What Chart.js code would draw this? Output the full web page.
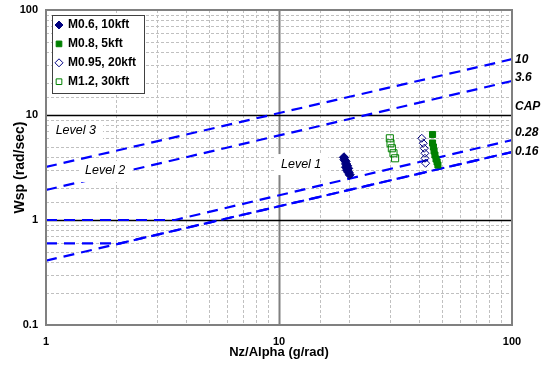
<!DOCTYPE html>
<html lang="en">
<head>
  <meta charset="UTF-8">
  <title>Wsp vs Nz/Alpha</title>
  <!-- Chart.js -->
  <script src="https://cdn.jsdelivr.net/npm/chart.js"></script>
  <style>
    * {
      box-sizing: border-box;
      margin: 0;
      padding: 0;
    }
    body {
      background-color: #fff;
      width: 541px;
      height: 365px;
      overflow: hidden;
    }
    #chart-container {
      width: 541px;
      height: 365px;
    }
  </style>
</head>
<body>
  <div id="chart-container">
    <canvas id="wspChart" width="541" height="365"></canvas>
  </div>

  <script>
    // Flight test points
    const m06X = [19.0, 19.1, 19.3, 19.4, 19.6, 19.4, 19.8, 19.6, 19.9, 20.1];
    const m06Y = [3.95, 3.75, 3.62, 3.42, 3.28, 3.18, 3.10, 2.98, 2.84, 2.70];
    const m08X = [45.6, 45.6, 46.0, 46.3, 46.7, 47.2, 47.7, 48.1];
    const m08Y = [6.52, 5.41, 4.96, 4.54, 4.16, 3.81, 3.57, 3.34];
    const m095X = [41.0, 41.6, 42.0, 42.3, 42.3, 42.6];
    const m095Y = [6.00, 5.38, 4.82, 4.32, 3.87, 3.47];
    const m12X = [29.9, 30.1, 30.5, 31.0, 31.5];
    const m12Y = [6.00, 5.38, 4.82, 4.32, 3.87];

    // CAP boundaries (end points and break points)
    const cap10X = [1, 100];
    const cap10Y = [3.2, 34];
    const cap36X = [1, 100];
    const cap36Y = [1.93, 21.1];
    const cap028X = [1, 3.58, 100];
    const cap028Y = [1, 1, 5.78];
    const cap016X = [1, 100];
    const cap016Y = [0.41, 4.44];
    const floor06X = [1, 2.08, 100];
    const floor06Y = [0.6, 0.6, 4.44];

    const seriesNames = ['M0.6, 10kft', 'M0.8, 5kft', 'M0.95, 20kft', 'M1.2, 30kft'];
    const boundaryNames = ['10', '3.6', 'CAP', '0.28', '0.16'];
    const boundaryLabelY = [34, 22.5, 11.9, 6.74, 4.44];
    const levelNames = ['Level 3', 'Level 2', 'Level 1'];
    const levelX = [1.10, 1.47, 10.2];
    const levelY = [7.04, 2.93, 3.41];

    const FONT = "'Liberation Sans', Arial, sans-serif";
    const NAVY = '#000080';
    const GREEN = '#008000';
    const BLUE = '#0000ff';

    const toPoints = (xs, ys) => xs.map((x, i) => ({ x: x, y: ys[i] }));
    const isDecade = v => Math.abs(Math.log10(v) - Math.round(Math.log10(v))) < 1e-6;
    const decadeLabel = v => isDecade(v) ? String(Number(v.toPrecision(3))) : '';

    function markerSet(label, xs, ys, style, radius, fill, color) {
      return {
        label: label,
        data: toPoints(xs, ys),
        showLine: false,
        pointStyle: style,
        pointRadius: radius,
        pointBackgroundColor: fill,
        pointBorderColor: color,
        pointBorderWidth: 1
      };
    }

    function boundary(xs, ys) {
      return {
        label: '',
        data: toPoints(xs, ys),
        showLine: true,
        borderColor: BLUE,
        borderWidth: 2.2,
        borderDash: [11, 7],
        pointRadius: 0,
        fill: false
      };
    }

    // Grid lines, taken from the ticks the log scales generate
    const gridPlugin = {
      id: 'logGrid',
      beforeDatasetsDraw(chart) {
        const { ctx, chartArea: a, scales: { x, y } } = chart;
        ctx.save();
        x.ticks.forEach(t => {
          if (t.value <= x.min || t.value >= x.max) return;
          const px = Math.round(x.getPixelForValue(t.value)) + 0.5;
          ctx.beginPath();
          if (isDecade(t.value)) {
            ctx.setLineDash([]);
            ctx.strokeStyle = '#808080';
            ctx.lineWidth = 2;
          } else {
            ctx.setLineDash([3, 2]);
            ctx.strokeStyle = '#c0c0c0';
            ctx.lineWidth = 1;
          }
          ctx.moveTo(px, a.top);
          ctx.lineTo(px, a.bottom);
          ctx.stroke();
        });
        y.ticks.forEach(t => {
          if (t.value <= y.min || t.value >= y.max) return;
          const py = Math.round(y.getPixelForValue(t.value)) + 0.5;
          ctx.beginPath();
          if (isDecade(t.value)) {
            ctx.setLineDash([]);
            ctx.strokeStyle = '#000';
            ctx.lineWidth = 1.5;
          } else {
            ctx.setLineDash([3, 2]);
            ctx.strokeStyle = '#c0c0c0';
            ctx.lineWidth = 1;
          }
          ctx.moveTo(a.left, py);
          ctx.lineTo(a.right, py);
          ctx.stroke();
        });
        ctx.restore();
      },
      afterDatasetsDraw(chart) {
        const { ctx, chartArea: a, scales: { x, y } } = chart;
        ctx.save();

        // level labels on white boxes, over the boundary lines
        ctx.font = 'italic 12.5px ' + FONT;
        ctx.textBaseline = 'middle';
        ctx.textAlign = 'left';
        levelNames.forEach((name, i) => {
          const px = x.getPixelForValue(levelX[i]);
          const py = y.getPixelForValue(levelY[i]);
          const w = ctx.measureText(name).width;
          ctx.fillStyle = '#fff';
          ctx.fillRect(px - 5, py - 10, w + 12, 21);
          ctx.fillStyle = '#000';
          ctx.fillText(name, px, py);
        });

        // plot frame
        ctx.strokeStyle = '#808080';
        ctx.lineWidth = 2;
        ctx.strokeRect(a.left, a.top, a.right - a.left, a.bottom - a.top);

        // boundary names at the right edge
        ctx.fillStyle = '#000';
        ctx.font = 'italic bold 12px ' + FONT;
        boundaryNames.forEach((name, i) => {
          ctx.fillText(name, a.right + 3, y.getPixelForValue(boundaryLabelY[i]));
        });

        // legend box
        const lx = 52, ly = 15, lw = 92, lh = 78;
        ctx.fillStyle = '#fff';
        ctx.fillRect(lx, ly, lw, lh);
        ctx.strokeStyle = '#404040';
        ctx.lineWidth = 1;
        ctx.strokeRect(lx + 0.5, ly + 0.5, lw, lh);
        ctx.font = 'bold 12px ' + FONT;
        seriesNames.forEach((name, i) => {
          const ds = chart.data.datasets[i];
          const cy = ly + 10 + i * 18.9;
          ctx.fillStyle = ds.pointBackgroundColor;
          ctx.strokeStyle = ds.pointBorderColor;
          ctx.lineWidth = 1;
          Chart.helpers.drawPoint(ctx, {
            pointStyle: ds.pointStyle,
            radius: 4,
            rotation: 0,
            borderWidth: 1
          }, lx + 7, cy);
          ctx.fillStyle = '#000';
          ctx.fillText(name, lx + 16, cy);
        });
        ctx.restore();
      }
    };

    new Chart(document.getElementById('wspChart'), {
      type: 'scatter',
      data: {
        datasets: [
          markerSet(seriesNames[0], m06X, m06Y, 'rectRot', 4.6, NAVY, NAVY),
          markerSet(seriesNames[1], m08X, m08Y, 'rect', 4.3, GREEN, GREEN),
          markerSet(seriesNames[2], m095X, m095Y, 'rectRot', 4, 'rgba(0,0,0,0)', NAVY),
          markerSet(seriesNames[3], m12X, m12Y, 'rect', 5, 'rgba(0,0,0,0)', GREEN),
          boundary(cap10X, cap10Y),
          boundary(cap36X, cap36Y),
          boundary(cap028X, cap028Y),
          boundary(cap016X, cap016Y),
          boundary(floor06X, floor06Y)
        ]
      },
      options: {
        responsive: false,
        animation: false,
        layout: { padding: { left: 0, top: 10, right: 29, bottom: 0 } },
        plugins: {
          legend: { display: false },
          tooltip: { enabled: false }
        },
        scales: {
          x: {
            type: 'logarithmic',
            min: 1,
            max: 100,
            grid: { display: false, drawTicks: false },
            border: { display: false },
            ticks: {
              autoSkip: false,
              maxRotation: 0,
              padding: 10,
              color: '#000',
              font: { family: FONT, size: 11, weight: 'bold' },
              callback: decadeLabel
            },
            title: {
              display: true,
              text: 'Nz/Alpha (g/rad)',
              color: '#000',
              font: { family: FONT, size: 13, weight: 'bold' },
              padding: { top: 0, bottom: 5 }
            },
            afterFit: s => { s.height = 40; }
          },
          y: {
            type: 'logarithmic',
            min: 0.1,
            max: 100,
            grid: { display: false, drawTicks: false },
            border: { display: false },
            ticks: {
              autoSkip: false,
              padding: 8,
              color: '#000',
              // small line height keeps the top label from pushing the plot down
              font: { family: FONT, size: 11, weight: 'bold', lineHeight: 0.2 },
              callback: decadeLabel
            },
            title: {
              display: true,
              text: 'Wsp (rad/sec)',
              color: '#000',
              font: { family: FONT, size: 14, weight: 'bold' },
              padding: { top: 12, bottom: 0 }
            },
            afterFit: s => { s.width = 46; }
          }
        }
      },
      plugins: [gridPlugin]
    });
  </script>
</body>
</html>
